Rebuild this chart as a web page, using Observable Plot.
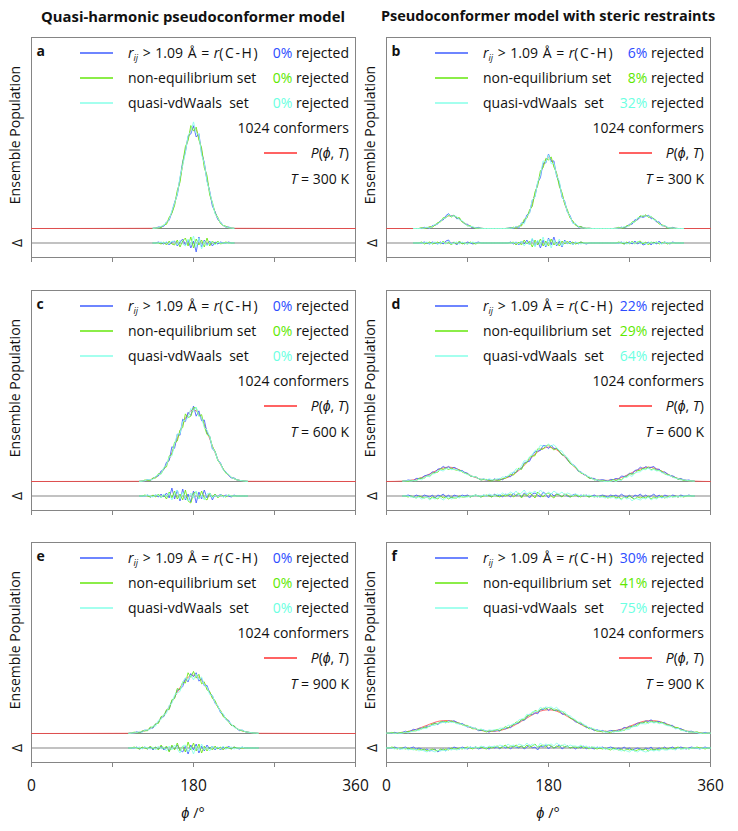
<!DOCTYPE html>
<html><head><meta charset="utf-8">
<script src="https://cdn.jsdelivr.net/npm/d3@7"></script>
<script src="https://cdn.jsdelivr.net/npm/@observablehq/plot@0.6"></script>
<style>
body{margin:0;background:#fff;}
#fig{position:relative;width:738px;height:831px;overflow:hidden;font-family:"Open Sans",sans-serif;color:#111;background:#fff;}
.abs{position:absolute;white-space:pre;line-height:1;}
.abs sub{font-size:9px;vertical-align:-3px;line-height:0;}
.ch{letter-spacing:1.6px;}
</style></head><body><div id="fig"></div>
<script>
// ---------- data ----------
const panelLetters = ["a","b","c","d","e","f"];
const columnTitles = ["Quasi-harmonic pseudoconformer model","Pseudoconformer model with steric restraints"];
const temperatures = [300,300,600,600,900,900];
const conformers = 1024;
const rejBlue  = [0,6,0,22,0,30];
const rejGreen = [0,8,0,29,0,41];
const rejCyan  = [0,32,0,64,0,75];
const seriesLabels = ['<i>r</i><sub><i>ij</i></sub> &gt; 1.09 Å = <i>r</i><span class="ch">(C-H)</span>','non-equilibrium set','quasi-vdWaals  set'];
const xTicks = [0,90,180,270,360];
const xTickLabels = [0,180,360];
const phiStep = 3;
const phiStart = [135,30,120,18,108,0];

// P(phi,T) reference curves (population, 100 = frame top)
const P_a = [0.1,0.2,0.4,0.8,1.6,3.0,5.1,8.4,12.9,18.8,25.8,33.4,40.9,47.2,51.5,53.0,51.5,47.2,40.9,33.4,25.8,18.8,12.9,8.4,5.1,3.0,1.6,0.8,0.4,0.2,0.1];
const P_b = [0,0,0,0.1,0.2,0.3,0.6,1.1,1.8,2.7, 3.8,4.9,5.9,6.6,6.8,6.6,5.9,4.9,3.8,2.7, 1.8,1.1,0.6,0.3,0.2,0.1,0,0,0,0, 0,0,0,0,0,0.1,0.1,0.3,0.6,1.1, 2.1,3.6,5.9,9.0,13.1,18.0,23.3,28.6,33.0,35.9, 37.0,35.9,33.0,28.6,23.3,18.0,13.1,9.0,5.9,3.6, 2.1,1.1,0.6,0.3,0.1,0.1,0,0,0,0, 0,0,0,0,0,0.1,0.2,0.3,0.6,1.1, 1.8,2.7,3.8,4.9,5.9,6.6,6.8,6.6,5.9,4.9, 3.8,2.7,1.8,1.1,0.6,0.3,0.2,0.1,0,0, 0];
const P_c = [0.1,0.2,0.4,0.6,0.9,1.5,2.2,3.3,4.7,6.6,8.9,11.7,15.0,18.6,22.4,26.2,29.8,33.0,35.4,37.0,37.5,37.0,35.4,33.0,29.8,26.2,22.4,18.6,15.0,11.7,8.9,6.6,4.7,3.3,2.2,1.5,0.9,0.6,0.4,0.2,0.1];
const P_d = [0.2,0.3,0.4,0.6,0.9,1.2,1.6,2.1,2.6,3.3, 4.0,4.7,5.4,6.1,6.7,7.1,7.4,7.5,7.4,7.1, 6.7,6.1,5.4,4.7,4.0,3.3,2.6,2.1,1.6,1.2, 1.0,0.7,0.6,0.6,0.6,0.7,1.0,1.2,1.7,2.2, 2.9,3.7,4.7,5.8,7.1,8.5,9.9,11.4,12.9,14.3, 15.5,16.6,17.3,17.8,18.0,17.8,17.3,16.6,15.5,14.3, 12.9,11.4,9.9,8.5,7.1,5.8,4.7,3.7,2.9,2.2, 1.7,1.2,1.0,0.7,0.6,0.6,0.6,0.7,1.0,1.2, 1.6,2.1,2.6,3.3,4.0,4.7,5.4,6.1,6.7,7.1, 7.4,7.5,7.4,7.1,6.7,6.1,5.4,4.7,4.0,3.3, 2.6,2.1,1.6,1.2,0.9,0.6,0.4,0.3,0.2];
const P_e = [0.1,0.2,0.3,0.5,0.7,1.0,1.4,1.9,2.6,3.6,4.7,6.1,7.7,9.6,11.7,14.1,16.5,19.1,21.6,24.0,26.2,28.0,29.4,30.2,30.5,30.2,29.4,28.0,26.2,24.0,21.6,19.1,16.5,14.1,11.7,9.6,7.7,6.1,4.7,3.6,2.6,1.9,1.4,1.0,0.7,0.5,0.3,0.2,0.1];
const P_f = [0.2,0.2,0.2,0.2,0.3,0.5,0.6,0.8,1.1,1.4, 1.8,2.2,2.7,3.2,3.8,4.3,4.9,5.4,5.9,6.3, 6.6,6.7,6.8,6.7,6.6,6.3,5.9,5.4,4.9,4.3, 3.8,3.2,2.8,2.3,1.9,1.6,1.4,1.2,1.1,1.2, 1.2,1.3,1.6,1.9,2.4,2.8,3.4,4.0,4.8,5.5, 6.4,7.2,8.1,8.9,9.8,10.5,11.1,11.7,12.1,12.3, 12.4,12.3,12.1,11.7,11.1,10.5,9.8,8.9,8.1,7.2, 6.4,5.5,4.8,4.0,3.4,2.8,2.4,1.9,1.6,1.3, 1.2,1.2,1.1,1.2,1.4,1.6,1.9,2.3,2.8,3.2, 3.8,4.3,4.9,5.4,5.9,6.3,6.6,6.7,6.8,6.7, 6.6,6.3,5.9,5.4,4.9,4.3,3.8,3.2,2.7,2.2, 1.8,1.4,1.1,0.8,0.6,0.5,0.3,0.2,0.2,0.2,0.2];

// residuals Delta of each ensemble (strip units)
const dBlue_a  = [0,0,1,0,-1,1,-2,1,2,-3,1,4,-2,3,-5,2,-9,6,-4,3,-2,2,-3,1,-1,1,0,0,1,0,0];
const dGreen_a = [0,0,0,-1,1,-2,2,-1,-2,3,-4,2,5,-3,6,-5,4,-2,3,-4,5,-3,2,-1,2,-1,0,1,0,0,0];
const dCyan_a  = [0,0,0,1,0,1,-1,2,1,-2,3,-1,-3,4,-2,7,-4,5,-6,2,-3,1,1,-2,1,0,0,0,0,0,0];
const dBlue_b  = [0,0,0,0,1,0,-1,1,0,-1, 1,-1,2,3,-1,1,-2,1,0,-1, 1,0,-1,0,1,0,0,0,0,0, 0,0,0,0,0,0,1,-1,1,-2, 2,-1,3,-2,4,-3,2,-5,3,-4, 5,-2,6,-3,2,-4,3,-1,2,-2, 1,-1,1,0,-1,0,0,0,0,0, 0,0,0,0,0,0,0,1,-1,0, 1,-1,2,-1,1,-2,-1,1,-2,1, -1,2,-1,1,0,-1,1,0,0,0, 0];
const dGreen_b = [0,0,0,1,-1,0,1,-1,0,1, -1,2,-1,1,-2,1,-1,2,-1,0, -1,1,0,-1,0,0,0,0,0,0, 0,0,0,0,0,0,0,1,-2,1, -2,3,-1,2,-4,3,-2,4,-3,2, -3,4,-2,1,-3,2,-1,2,-1,1, -1,0,1,0,0,0,0,0,0,0, 0,0,0,0,0,0,1,0,-1,1, -1,2,-1,1,2,-1,1,-2,1,0, 1,-1,0,1,-1,0,0,0,0,0, 0];
const dCyan_b  = [0,0,0,0,0,1,-1,0,1,-1, 0,1,-1,2,-1,0,1,-1,1,0, -1,0,1,0,0,0,0,0,0,0, 0,0,0,0,0,0,0,0,1,-1, 2,-3,1,-2,5,-4,3,-2,6,-3, 4,-5,3,-2,4,-3,2,-1,1,-2, 1,0,-1,0,0,0,0,0,0,0, 0,0,0,0,0,0,0,0,1,-1, 0,1,-1,2,-1,1,-1,0,1,-1, 1,0,-1,1,0,0,0,0,0,0, 0];
const dBlue_c  = [0,0,0,1,-1,0,1,-1,2,-1,3,-2,8,-3,6,-5,7,-4,2,-6,5,-7,4,-3,6,-2,3,-4,2,-1,2,-1,1,0,-1,1,0,0,0,0,0];
const dGreen_c = [0,0,1,0,-1,1,-1,2,-2,1,-3,4,-2,5,-3,2,-4,6,-5,-7,3,4,-3,5,-2,-4,3,-1,2,-2,1,0,-1,1,0,0,0,0,0,0,0];
const dCyan_c  = [0,0,0,1,0,-1,1,1,-2,2,-1,3,-4,2,6,-3,4,-2,-5,3,-2,5,-3,1,-4,2,3,-2,1,-1,1,-1,0,1,0,0,0,0,0,0,0];
const dBlue_d  = [0,0,1,0,-1,1,0,-1,1,0, -1,1,-2,1,0,2,-1,1,-2,1, 0,-1,1,0,1,-1,0,1,0,-1, 1,0,1,-1,2,0,1,-1,2,1, -1,3,0,2,-1,3,1,-2,2,3, 1,-1,4,2,-2,3,0,2,1,-1, 2,0,-1,1,2,-1,1,0,1,-1, 0,1,-1,0,1,0,-1,1,0,1, -1,2,0,-1,1,-2,1,0,2,-1, 1,-1,0,2,-1,1,-2,1,0,-1, 1,0,-1,1,0,0,1,0,0];
const dGreen_d = [0,0,-1,0,-1,-2,0,-1,-2,-1, -3,-1,-2,-3,0,-2,-1,-3,-1,-2, -2,0,-1,-1,0,-1,0,1,0,-1, 0,1,0,-1,1,0,-1,1,0,1, 2,-1,1,3,-2,2,0,3,1,-2, 4,1,-1,2,3,0,-2,2,1,-1, 2,1,-1,0,1,0,-1,1,0,-1, 0,-1,0,-1,0,-1,-2,-1,0,-2, -1,-3,-1,-2,0,-2,-3,-1,-2,-1, -2,0,-3,-1,-2,-1,0,-2,-1,0, -1,0,-1,0,-1,0,0,0,0];
const dCyan_d  = [0,0,0,-1,-1,-2,-1,-3,-2,-1, -4,-2,-3,-1,-2,-4,-2,-1,-3,-2, -1,-2,0,-1,-1,0,0,1,0,0, 1,0,2,1,0,2,1,3,1,2, 4,2,5,1,3,6,2,4,3,5, 2,6,3,1,4,2,5,3,2,4, 1,3,2,0,2,1,0,1,0,1, 0,-1,0,-1,-1,-2,-1,-2,-1,-3, -2,-4,-1,-3,-2,-5,-2,-3,-4,-2, -3,-1,-4,-2,-3,-1,-2,-1,-2,0, -1,-1,0,-1,0,0,0,0,0];
const dBlue_e  = [0,0,0,1,-1,0,1,-1,1,-2,1,-1,2,-2,1,-3,2,-1,3,-2,-4,2,-6,3,-2,4,-5,2,-3,3,-1,2,-2,1,-2,1,-1,2,-1,1,0,-1,1,0,0,0,0,0,0];
const dGreen_e = [0,0,1,0,-1,1,0,-1,2,-1,1,-2,3,-1,2,-4,3,-2,5,-3,2,-4,6,-2,5,-3,4,-5,2,-3,1,-2,2,-1,1,-2,1,0,-1,1,0,0,0,0,0,0,0,0,0];
const dCyan_e  = [0,0,0,0,1,-1,1,0,-1,1,-2,2,-1,1,-3,2,-2,3,-1,-5,2,3,-4,1,-6,2,-3,4,-2,1,-3,2,-1,1,-1,2,-1,0,1,-1,0,0,1,0,0,0,0,0,0];
const dBlue_f  = [0,0,0,1,0,-1,0,1,-1,0, 1,-1,0,-1,-2,-1,-3,-2,-1,-4, -2,-1,-3,0,-1,1,0,-1,1,0, -1,1,0,1,-1,0,1,0,-1,1, 0,1,-1,2,0,1,-1,2,1,0, 2,-1,1,3,0,1,-2,2,1,3, -1,2,0,1,3,-1,1,2,0,1, -1,1,0,2,-1,1,0,-1,1,0, 1,-1,0,1,0,-1,0,-1,1,-1, 0,-2,-1,0,-1,-2,0,-1,1,-2, -1,0,-1,1,-1,0,1,-1,0,1, 0,-1,0,1,0,0,-1,0,1,0,0];
const dGreen_f = [0,0,1,0,-1,0,0,-1,0,-1, -1,-2,-1,-2,-1,-3,-2,-1,-2,-3, -1,-2,-1,-2,0,-1,-1,0,-1,0, 1,0,-1,1,0,1,0,-1,1,0, 1,2,0,1,3,0,2,1,3,1, 2,0,3,1,2,4,1,2,3,1, 3,2,0,2,1,3,1,2,0,1, 1,0,2,0,1,-1,1,0,-1,0, -1,0,-1,-2,0,-1,-2,-1,-3,-1, -2,-1,-3,-2,-1,-2,-1,-3,-1,-2, -1,-2,0,-1,-1,0,-1,0,1,-1, 0,0,-1,0,0,1,0,0,-1,0,0];
const dCyan_f  = [0,0,0,-1,0,-1,-1,0,-2,-1, -2,-1,-3,-2,-3,-4,-2,-3,-4,-2, -3,-2,-3,-1,-2,-1,-2,-1,0,-1, 0,1,0,1,0,2,1,0,2,1, 2,1,3,2,1,4,2,3,1,4, 3,2,5,2,4,3,1,5,2,4, 3,4,2,5,3,2,4,1,3,2, 2,1,3,1,2,0,1,1,0,1, 0,-1,-1,0,-2,-1,-2,-3,-2,-3, -4,-2,-3,-4,-2,-3,-4,-3,-2,-3, -2,-3,-1,-2,-2,-1,-1,-2,0,-1, -1,0,-1,0,0,0,-1,0,0,0,0];

// ---------- styling / layout ----------
const gray = "#858585", red = "#ff3c3c";
const lineColors = ["#4a66ff","#6ee81a","#8dffea"];
const textColors = ["#2c4cff","#5ee800","#6cffe2"];
const deltaToPop = 0.4;            // main-panel units per strip unit
const colL = [31, 386], frameW = 324;
const rowT = [37, 290, 542], mainH = 191, stripH = 29;
const pad = 3;

const P_all = [P_a,P_b,P_c,P_d,P_e,P_f];
const D_all = [[dBlue_a,dGreen_a,dCyan_a],[dBlue_b,dGreen_b,dCyan_b],[dBlue_c,dGreen_c,dCyan_c],
               [dBlue_d,dGreen_d,dCyan_d],[dBlue_e,dGreen_e,dCyan_e],[dBlue_f,dGreen_f,dCyan_f]];
const rej_all = [rejBlue, rejGreen, rejCyan];

const fig = document.getElementById("fig");
function place(el, x, y){ el.style.position = "absolute"; el.style.left = x + "px"; el.style.top = y + "px"; el.style.maxWidth = "none"; fig.appendChild(el); return el; }
function text(html, x, y, align, extra){
  const d = document.createElement("div"); d.className = "abs"; d.innerHTML = html;
  d.style.fontSize = "14px";
  if (extra) Object.assign(d.style, extra);
  const tx = align === "right" ? "-100%" : align === "center" ? "-50%" : "0";
  d.style.transform = `translate(${tx},-50%)`;
  return place(d, x, y);
}
function vtext(html, x, y, size){
  const d = document.createElement("div"); d.className = "abs"; d.innerHTML = html;
  d.style.fontSize = size + "px";
  d.style.transform = "translate(-50%,-50%) rotate(-90deg)";
  return place(d, x, y);
}
function sample(x1, x2, y, color){
  const d = document.createElement("div"); d.className = "abs";
  d.style.width = (x2 - x1) + "px"; d.style.height = "2px"; d.style.background = color; d.style.opacity = "0.8";
  return place(d, Math.round(x1), Math.round(y) - 1);
}

text(columnTitles[0], colL[0] + frameW / 2, 16, "center", {fontWeight: "700", fontSize: "14.8px"});
text(columnTitles[1], colL[1] + frameW / 2, 16, "center", {fontWeight: "700", fontSize: "14.5px"});

P_all.forEach((P, idx) => {
  const col = idx % 2, row = Math.floor(idx / 2);
  const L = colL[col], T = rowT[row], R = L + frameW;
  const phis = P.map((_, i) => phiStart[idx] + i * phiStep);
  const pRows = phis.map((phi, i) => ({phi, v: P[i]}));
  if (phis[0] > 0) pRows.unshift({phi: 0, v: 0});
  if (phis[phis.length - 1] < 360) pRows.push({phi: 360, v: 0});
  const sets = D_all[idx].map(D => D.map((dv, i) => ({phi: phis[i], v: Math.max(0, P[i] + dv * deltaToPop), d: dv})));

  // residual strip (appended first so the main baseline sits on top)
  const last = row === 2;
  const mb = last ? 34 : 6;
  const strip = Plot.plot({
    width: frameW + 2 * pad, height: stripH + pad + mb,
    marginTop: pad, marginLeft: pad, marginRight: pad, marginBottom: mb,
    style: {background: "transparent", fontFamily: "'Open Sans', sans-serif", fontSize: "15.5px", color: "#111", overflow: "visible"},
    x: {domain: [0, 360]}, y: {domain: [-stripH / 2, stripH / 2], axis: null},
    marks: [
      Plot.frame({stroke: gray}),
      Plot.ruleY([0], {stroke: gray}),
      Plot.axisX({ticks: xTicks, tickSize: 5, tickPadding: 12, stroke: gray, fill: "#111", label: null,
        tickFormat: d => (last && xTickLabels.includes(d)) ? String(d) : ""}),
      ...sets.map((s, si) => Plot.lineY(s, {x: "phi", y: "d", stroke: lineColors[si], strokeWidth: 0.9}))
    ]
  });
  place(strip, L - pad, T + mainH - pad);

  const main = Plot.plot({
    width: frameW + 2 * pad, height: mainH + 2 * pad, margin: pad,
    style: {background: "transparent", overflow: "visible"},
    x: {domain: [0, 360], axis: null}, y: {domain: [0, 100], axis: null},
    marks: [
      Plot.frame({stroke: gray}),
      Plot.lineY(pRows, {x: "phi", y: "v", stroke: red, strokeWidth: 1, strokeOpacity: 0.75, curve: "monotone-x"}),
      ...sets.map((s, si) => Plot.lineY(s, {x: "phi", y: "v", stroke: lineColors[si], strokeWidth: 0.9}))
    ]
  });
  place(main, L - pad, T - pad);

  // panel letter and legend
  text(panelLetters[idx], L + 5.5, T + 14, "left", {fontWeight: "700"});
  const rowY = i => T + 16 + 25.1 * i;
  seriesLabels.forEach((lab, si) => {
    sample(L + 49, L + 82, rowY(si), lineColors[si]);
    text(lab, L + 97, rowY(si), "left", si === 0 ? {wordSpacing: "1px"} : null);
    text(`<span style="color:${textColors[si]}">${rej_all[si][idx]}%</span> rejected`, R - 6, rowY(si), "right");
  });
  text(`${conformers} conformers`, R - 6, rowY(3), "right");
  sample(R - 91, R - 58, rowY(4), red);
  text(`<i>P</i>(<i>ϕ</i>, <i>T</i>)`, R - 6, rowY(4), "right");
  text(`<i>T</i> = ${temperatures[idx]} K`, R - 6, rowY(5), "right");

  vtext("Ensemble Population", L - 16.5, T + 98, 14);
  vtext("Δ", L - 14, T + mainH + stripH / 2, 14);
  if (last) text(`<i>ϕ</i> /°`, L + frameW / 2, 813, "center", {fontSize: "14.5px"});
});
</script></body></html>
